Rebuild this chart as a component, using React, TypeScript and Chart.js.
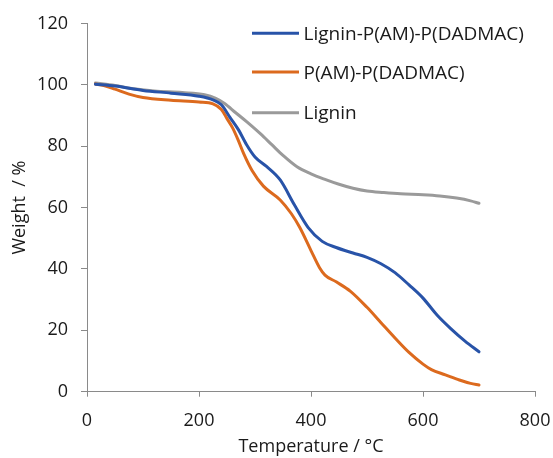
import React, { useEffect, useRef } from "react";
import { Chart, registerables } from "chart.js";

Chart.register(...registerables);

const seriesNames = ["Lignin-P(AM)-P(DADMAC)", "P(AM)-P(DADMAC)", "Lignin"];
const seriesColors = ["#2853A8", "#DC6A1E", "#9A9A9A"];

const tempBlue = [15, 50, 100, 150, 200, 225, 240, 255, 270, 285, 300, 320, 345, 370, 395, 420, 445, 475, 500, 525, 550, 575, 600, 625, 650, 675, 700];
const weightBlue = [100.2, 99.6, 98.2, 97.3, 96.3, 95.1, 93.5, 89.5, 85.5, 80.5, 76.5, 73.5, 69, 61, 53.5, 49, 47, 45.2, 43.8, 41.7, 38.8, 34.8, 30.5, 25, 20.5, 16.5, 13];

const tempOrange = [15, 30, 50, 75, 100, 150, 200, 225, 240, 250, 260, 270, 280, 295, 315, 345, 365, 380, 400, 415, 425, 445, 470, 500, 525, 550, 575, 600, 615, 640, 665, 685, 700];
const weightOrange = [100.3, 99.8, 98.6, 97, 95.9, 95, 94.4, 93.8, 92, 89, 86, 82, 77.5, 72, 67, 62.5, 58, 53.5, 46, 40.5, 38, 35.8, 32.8, 27.5, 22.5, 17.5, 12.8, 9, 7.2, 5.5, 3.8, 2.7, 2.2];

const tempGray = [15, 50, 80, 120, 170, 210, 230, 245, 265, 285, 310, 330, 350, 375, 400, 425, 450, 475, 500, 530, 560, 600, 630, 660, 685, 700];
const weightGray = [100.6, 99.8, 98.8, 98, 97.5, 96.8, 95.6, 94, 91, 88, 84, 80.5, 77, 73.3, 71, 69.2, 67.6, 66.3, 65.4, 64.9, 64.5, 64.2, 63.8, 63.1, 62.2, 61.4];

const xTicks = [0, 200, 400, 600, 800];
const yTicks = [0, 20, 40, 60, 80, 100, 120];

const FONT = "'Open Sans', 'DejaVu Sans', sans-serif";
const TEXT = "#1a1a1a";
const AXIS = "#8a8a8a";

const toPoints = (xs: number[], ys: number[]) => xs.map((x, i) => ({ x, y: ys[i] }));

const legendPlugin = {
  id: "lineLegend",
  afterDraw(chart: any) {
    const ctx = chart.ctx;
    const x0 = 252;
    const x1 = 299;
    const ys = [33.3, 72, 112.7];
    ctx.save();
    chart.data.datasets.forEach((ds: any, i: number) => {
      const y = ys[i];
      ctx.strokeStyle = ds.borderColor;
      ctx.lineWidth = 3;
      ctx.lineCap = "butt";
      ctx.beginPath();
      ctx.moveTo(x0, y);
      ctx.lineTo(x1, y);
      ctx.stroke();
      ctx.fillStyle = TEXT;
      ctx.font = `19px ${FONT}`;
      ctx.textAlign = "left";
      ctx.textBaseline = "alphabetic";
      ctx.fillText(ds.label, 303.5, y + 6.5);
    });
    ctx.restore();
  },
};

export default function App() {
  const ref = useRef<HTMLCanvasElement | null>(null);
  useEffect(() => {
    if (!ref.current) return;
    const chart = new Chart(ref.current, {
      type: "line",
      data: {
        datasets: [
          { label: seriesNames[0], data: toPoints(tempBlue, weightBlue), borderColor: seriesColors[0], backgroundColor: seriesColors[0] },
          { label: seriesNames[1], data: toPoints(tempOrange, weightOrange), borderColor: seriesColors[1], backgroundColor: seriesColors[1] },
          { label: seriesNames[2], data: toPoints(tempGray, weightGray), borderColor: seriesColors[2], backgroundColor: seriesColors[2] },
        ],
      },
      options: {
        animation: false,
        responsive: false,
        maintainAspectRatio: false,
        elements: {
          point: { radius: 0 },
          line: { borderWidth: 3, tension: 0.4, cubicInterpolationMode: "monotone", borderCapStyle: "round" },
        },
        layout: { padding: { left: 0, right: 18, top: 23.5, bottom: 0 } },
        plugins: { legend: { display: false }, tooltip: { enabled: false } },
        scales: {
          x: {
            type: "linear",
            min: 0,
            max: 800,
            afterBuildTicks: (s: any) => { s.ticks = xTicks.map((v) => ({ value: v })); },
            afterFit: (s: any) => { s.height = 458 - 391.7; s.paddingRight = 0; s.paddingLeft = 0; },
            border: { color: AXIS, width: 1 },
            grid: { drawOnChartArea: false, drawTicks: true, tickLength: 5, color: AXIS },
            ticks: { color: TEXT, font: { family: FONT, size: 18 }, padding: 13.5, maxRotation: 0 },
            title: { display: true, text: "Temperature / °C", color: TEXT, font: { family: FONT, size: 18 }, padding: { top: 0, bottom: 0 } },
          },
          y: {
            type: "linear",
            min: 0,
            max: 120,
            afterBuildTicks: (s: any) => { s.ticks = yTicks.map((v) => ({ value: v })); },
            afterFit: (s: any) => { s.width = 87; s.paddingTop = 0; s.paddingBottom = 0; },
            border: { color: AXIS, width: 1 },
            grid: { drawOnChartArea: false, drawTicks: true, tickLength: 6, color: AXIS },
            ticks: { color: TEXT, font: { family: FONT, size: 18 }, padding: 13 },
            title: { display: true, text: "Weight  / %", color: TEXT, font: { family: FONT, size: 18 }, padding: { top: 9, bottom: 0 } },
          },
        },
      },
      plugins: [legendPlugin],
    });
    return () => chart.destroy();
  }, []);
  return (
    <div style={{ position: "fixed", left: 0, top: 0, width: 553, height: 458, background: "#fff" }}>
      <canvas ref={ref} width={553} height={458} style={{ display: "block", width: 553, height: 458 }} />
    </div>
  );
}
